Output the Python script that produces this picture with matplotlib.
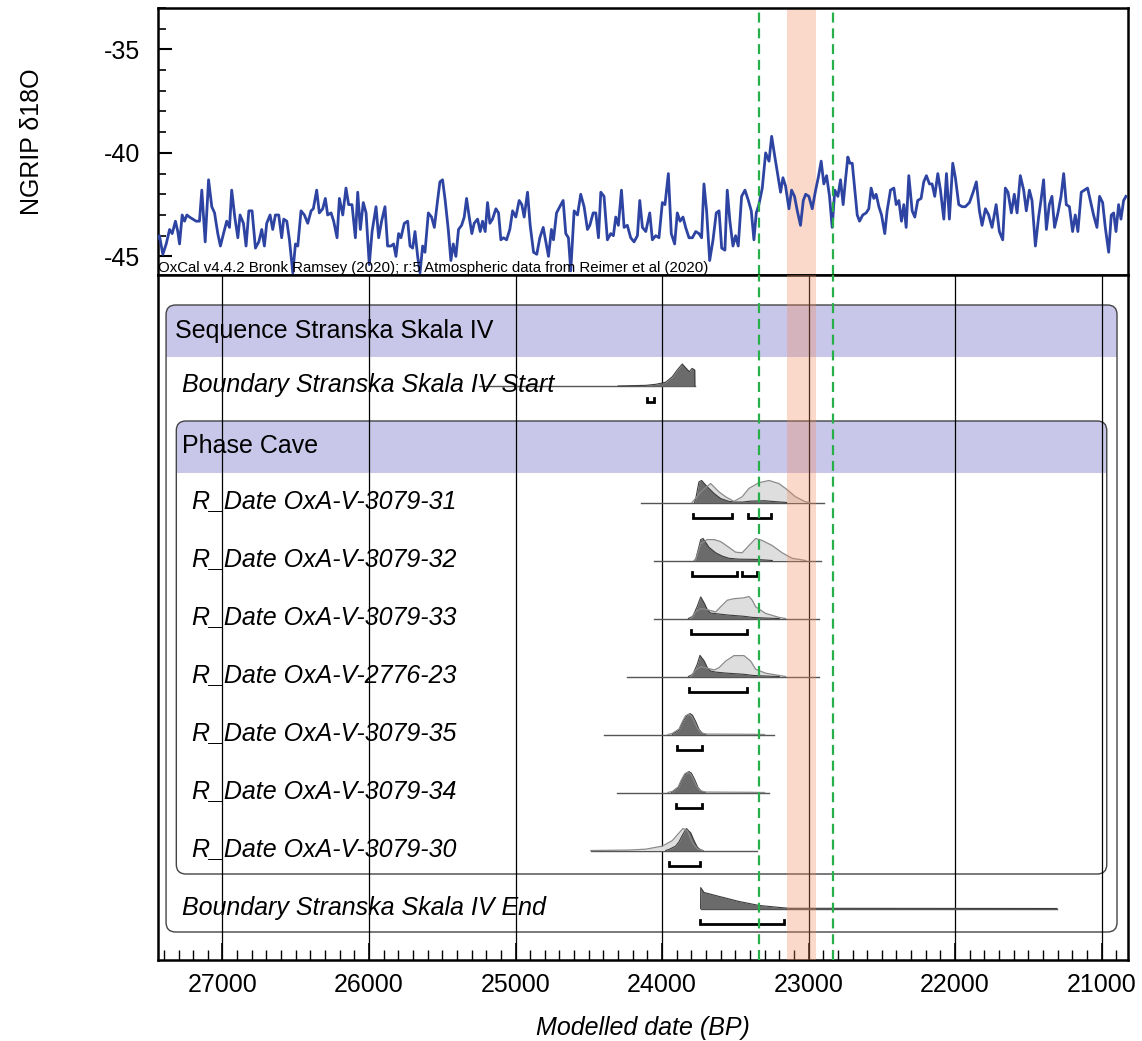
import matplotlib.pyplot as plt
from matplotlib.patches import FancyBboxPatch, Rectangle
from matplotlib.ticker import MultipleLocator

plt.rcParams['font.family'] = ['Liberation Sans', 'DejaVu Sans']
plt.rcParams['axes.unicode_minus'] = False

# ---- NGRIP d18O record ----
ngrip_age = [27448, 27430, 27407, 27384, 27361, 27343, 27321, 27305, 27293, 27275,
             27259, 27243, 27225, 27202, 27180, 27157, 27141, 27118, 27095, 27073,
             27054, 27032, 27014, 26993, 26971, 26952, 26937, 26916, 26895, 26880,
             26857, 26839, 26820, 26798, 26775, 26752, 26732, 26714, 26698, 26675,
             26657, 26639, 26616, 26596, 26582, 26561, 26543, 26520, 26502, 26486,
             26464, 26441, 26418, 26395, 26380, 26357, 26339, 26316, 26298, 26282,
             26259, 26241, 26218, 26202, 26179, 26157, 26139, 26116, 26093, 26077,
             26059, 26039, 26020, 25998, 25979, 25952, 25934, 25914, 25891, 25873,
             25850, 25832, 25816, 25798, 25782, 25759, 25736, 25720, 25702, 25686,
             25668, 25652, 25634, 25618, 25595, 25573, 25554, 25532, 25516, 25498,
             25480, 25459, 25441, 25425, 25407, 25389, 25368, 25350, 25334, 25316,
             25298, 25282, 25259, 25241, 25225, 25207, 25191, 25175, 25157, 25134,
             25116, 25100, 25082, 25061, 25039, 25020, 24998, 24975, 24957, 24941,
             24918, 24900, 24877, 24855, 24834, 24811, 24793, 24775, 24755, 24741,
             24720, 24698, 24675, 24657, 24639, 24623, 24600, 24577, 24555, 24532,
             24509, 24493, 24470, 24452, 24434, 24418, 24396, 24373, 24350, 24332,
             24316, 24298, 24277, 24259, 24237, 24214, 24191, 24168, 24152, 24134,
             24111, 24084, 24066, 24043, 24021, 23998, 23980, 23957, 23937, 23914,
             23896, 23877, 23857, 23839, 23816, 23793, 23770, 23748, 23730, 23714,
             23696, 23675, 23652, 23630, 23611, 23593, 23571, 23555, 23537, 23516,
             23498, 23480, 23457, 23434, 23411, 23391, 23373, 23357, 23339, 23316,
             23293, 23270, 23252, 23230, 23207, 23191, 23175, 23157, 23134, 23116,
             23096, 23077, 23055, 23036, 23020, 22998, 22975, 22952, 22934, 22914,
             22896, 22877, 22857, 22839, 22821, 22800, 22782, 22764, 22748, 22732,
             22718, 22702, 22684, 22668, 22652, 22630, 22607, 22589, 22573, 22555,
             22539, 22520, 22502, 22480, 22464, 22441, 22418, 22402, 22384, 22366,
             22350, 22334, 22316, 22293, 22275, 22255, 22232, 22214, 22196, 22175,
             22157, 22139, 22118, 22100, 22077, 22059, 22039, 22016, 21998, 21975,
             21952, 21930, 21902, 21877, 21855, 21834, 21816, 21793, 21771, 21748,
             21720, 21698, 21675, 21657, 21639, 21616, 21596, 21577, 21555, 21532,
             21514, 21493, 21475, 21452, 21430, 21414, 21396, 21377, 21357, 21339,
             21321, 21298, 21277, 21259, 21241, 21220, 21198, 21180, 21162, 21139,
             21118, 21096, 21077, 21055, 21032, 21014, 20993, 20975, 20952, 20934,
             20918, 20902, 20884, 20868, 20850, 20834]
ngrip_d18o = [-44.2, -44.0, -44.9, -44.4, -43.7, -43.9, -43.3, -43.8, -44.4, -43.0,
              -43.3, -43.0, -43.1, -43.2, -43.3, -43.3, -41.8, -44.3, -41.3, -42.6,
              -42.9, -43.9, -44.5, -43.9, -43.3, -43.6, -41.8, -43.1, -44.1, -43.0,
              -43.4, -44.5, -42.8, -42.8, -44.6, -44.3, -43.7, -44.5, -43.4, -43.0,
              -43.7, -43.0, -43.0, -44.1, -43.2, -43.3, -44.2, -45.8, -44.4, -44.5,
              -42.8, -43.0, -43.4, -42.8, -42.7, -41.8, -42.9, -42.7, -42.2, -43.0,
              -42.9, -43.3, -44.1, -42.2, -43.0, -41.7, -42.5, -42.5, -44.1, -41.9,
              -43.7, -42.4, -42.9, -45.4, -43.8, -42.6, -44.1, -43.3, -42.6, -44.5,
              -44.5, -44.4, -45.0, -43.9, -44.1, -43.4, -43.3, -44.5, -44.6, -43.8,
              -45.0, -45.8, -44.5, -44.8, -42.9, -43.1, -43.6, -42.3, -41.4, -41.3,
              -42.3, -43.7, -45.2, -44.4, -45.0, -43.7, -43.5, -43.1, -42.2, -43.1,
              -43.9, -43.4, -43.2, -43.8, -43.3, -43.8, -42.4, -43.4, -43.2, -42.7,
              -42.9, -44.2, -44.1, -44.2, -43.7, -42.8, -43.1, -42.3, -42.5, -43.1,
              -41.9, -43.5, -44.8, -44.9, -44.1, -43.6, -44.3, -45.0, -43.7, -44.2,
              -42.9, -42.6, -42.3, -43.9, -44.1, -45.7, -42.8, -43.0, -42.0, -42.6,
              -43.7, -43.5, -42.9, -42.9, -44.1, -41.9, -42.1, -44.2, -43.9, -44.0,
              -43.1, -43.5, -41.8, -43.6, -43.5, -44.1, -44.3, -44.0, -42.3, -43.6,
              -43.8, -42.9, -44.2, -44.0, -44.1, -42.4, -42.5, -41.0, -43.9, -44.4,
              -42.9, -43.3, -43.1, -43.6, -44.1, -44.1, -43.8, -43.9, -44.1, -41.5,
              -42.8, -45.2, -44.2, -42.9, -42.8, -44.6, -44.7, -41.8, -43.3, -44.5,
              -44.0, -44.5, -42.1, -41.8, -42.3, -42.8, -44.2, -42.9, -42.5, -41.7,
              -40.0, -40.4, -39.2, -40.2, -41.2, -41.9, -41.2, -41.6, -42.7, -41.8,
              -42.1, -42.8, -43.5, -42.3, -42.0, -42.1, -42.7, -41.8, -41.2, -40.4,
              -41.5, -41.1, -42.1, -43.6, -41.8, -42.1, -41.3, -42.5, -41.3, -40.2,
              -40.5, -40.5, -41.8, -43.0, -43.3, -43.0, -42.9, -42.7, -41.7, -42.2,
              -42.0, -42.6, -43.0, -43.9, -42.8, -41.8, -41.7, -42.5, -42.3, -43.3,
              -42.5, -43.6, -41.1, -42.8, -43.1, -42.3, -42.2, -41.4, -41.1, -41.5,
              -41.5, -42.1, -41.0, -41.8, -43.2, -41.0, -43.2, -40.5, -41.2, -42.5,
              -42.6, -42.6, -42.4, -41.9, -41.4, -42.8, -43.5, -42.7, -43.0, -43.6,
              -42.5, -43.8, -44.2, -41.7, -41.9, -42.9, -42.0, -42.9, -41.1, -41.8,
              -42.8, -41.8, -42.3, -44.5, -43.1, -42.3, -41.3, -43.7, -42.5, -42.1,
              -43.6, -42.9, -42.1, -41.0, -42.5, -42.6, -43.8, -43.0, -43.8, -41.9,
              -41.8, -41.7, -42.3, -43.0, -43.6, -42.1, -42.4, -43.6, -44.8, -43.0,
              -42.9, -43.8, -42.5, -43.2, -42.3, -42.1]

green_lines = [23340, 22835]
orange_band = (23150, 22950)

# ---- OxCal model rows: likelihood (light) and posterior (dark), relative heights ----
start_post_age = [24300, 24110, 24040, 23975, 23930, 23896, 23862, 23835, 23814, 23795, 23777, 23776]
start_post_h = [0, 0.03, 0.08, 0.17, 0.42, 0.73, 1.0, 0.8, 0.65, 0.8, 0.73, 0]

r31_like_age = [23795, 23725, 23668, 23611, 23566, 23509, 23453, 23407, 23339, 23270, 23202, 23157, 23089, 23020, 22990]
r31_like_h = [0, 0.55, 0.86, 0.48, 0.26, 0.05, 0.26, 0.64, 0.9, 1.0, 0.86, 0.64, 0.26, 0.03, 0]
r31_post_age = [23778, 23770, 23748, 23730, 23691, 23645, 23600, 23543, 23498, 23450, 23400, 23300, 23230, 23150]
r31_post_h = [0, 0.18, 0.94, 1.0, 0.71, 0.41, 0.18, 0.05, 0.02, 0.02, 0.06, 0.08, 0.04, 0]

r32_like_age = [23780, 23770, 23736, 23691, 23645, 23600, 23555, 23498, 23453, 23407, 23361, 23316, 23248, 23180, 23112, 23020]
r32_like_h = [0, 0.05, 0.76, 0.95, 0.95, 0.86, 0.65, 0.38, 0.35, 0.68, 1.0, 0.91, 0.68, 0.35, 0.1, 0]
r32_post_age = [23780, 23770, 23736, 23720, 23680, 23634, 23589, 23543, 23475, 23361, 23316, 23248]
r32_post_h = [0, 0.05, 0.95, 1.0, 0.6, 0.35, 0.2, 0.1, 0.06, 0.05, 0.03, 0]

r33_like_age = [23805, 23770, 23736, 23691, 23634, 23590, 23555, 23509, 23441, 23407, 23384, 23361, 23293, 23202, 23157]
r33_like_h = [0, 0.3, 0.45, 0.4, 0.3, 0.6, 0.83, 0.9, 0.94, 1.0, 0.83, 0.53, 0.23, 0.05, 0]
r33_post_age = [23820, 23790, 23760, 23736, 23712, 23691, 23670, 23634, 23555, 23441, 23384, 23293, 23200]
r33_post_h = [0, 0.1, 0.55, 0.98, 0.7, 0.4, 0.25, 0.22, 0.16, 0.1, 0.05, 0.02, 0]

r23_like_age = [23805, 23770, 23736, 23691, 23645, 23611, 23566, 23509, 23441, 23395, 23361, 23293, 23157]
r23_like_h = [0, 0.3, 0.45, 0.38, 0.3, 0.4, 0.7, 0.95, 0.95, 0.7, 0.33, 0.15, 0]
r23_post_age = [23820, 23790, 23760, 23741, 23712, 23691, 23670, 23634, 23555, 23441, 23384, 23293, 23200]
r23_post_h = [0, 0.1, 0.55, 0.96, 0.7, 0.4, 0.25, 0.2, 0.15, 0.1, 0.05, 0.02, 0]

r35_like_age = [23960, 23930, 23884, 23864, 23840, 23820, 23800, 23780, 23760, 23735, 23700, 23400, 23300]
r35_like_h = [0, 0.05, 0.25, 0.55, 0.85, 0.92, 0.85, 0.6, 0.3, 0.08, 0.02, 0.01, 0]
r35_post_age = [23930, 23884, 23850, 23827, 23809, 23793, 23770, 23748, 23725, 23700]
r35_post_h = [0, 0.2, 0.65, 0.88, 0.95, 0.88, 0.58, 0.23, 0.05, 0]

r34_like_age = [23960, 23930, 23890, 23870, 23845, 23825, 23805, 23785, 23765, 23740, 23700, 23400, 23300]
r34_like_h = [0, 0.05, 0.25, 0.55, 0.85, 0.92, 0.85, 0.6, 0.3, 0.08, 0.02, 0.01, 0]
r34_post_age = [23935, 23890, 23857, 23834, 23816, 23800, 23777, 23755, 23732, 23705]
r34_post_h = [0, 0.2, 0.65, 0.88, 0.95, 0.88, 0.58, 0.23, 0.05, 0]

r30_like_age = [24486, 24225, 24111, 23998, 23930, 23884, 23857, 23827, 23793, 23759, 23725]
r30_like_h = [0, 0.02, 0.06, 0.2, 0.45, 0.8, 1.0, 0.9, 0.35, 0.08, 0]
r30_post_age = [23975, 23952, 23907, 23884, 23861, 23834, 23804, 23782, 23759, 23736, 23720]
r30_post_h = [0, 0.05, 0.2, 0.4, 0.7, 1.0, 0.8, 0.45, 0.15, 0.02, 0]

end_post_age = [23737, 23736, 23714, 23611, 23475, 23339, 23202, 23134, 21305]
end_post_h = [0, 0.95, 0.73, 0.55, 0.32, 0.14, 0.05, 0.01, 0]

date_names = ['R_Date OxA-V-3079-31', 'R_Date OxA-V-3079-32', 'R_Date OxA-V-3079-33',
              'R_Date OxA-V-2776-23', 'R_Date OxA-V-3079-35', 'R_Date OxA-V-3079-34',
              'R_Date OxA-V-3079-30']
date_extent = [(24143, 22895), (24055, 22918), (24055, 22930), (24237, 22930),
               (24395, 23236), (24307, 23270), (24484, 23352)]
date_ranges = [[(23789, 23523), (23414, 23257)],
               [(23795, 23489), (23455, 23352)],
               [(23802, 23418)],
               [(23816, 23423)],
               [(23898, 23727)],
               [(23905, 23727)],
               [(23952, 23741)]]
start_extent = (25250, 23776)
start_ranges = [(24100, 24055)]
end_extent = (23737, 21305)
end_ranges = [(23741, 23168)]

# ---- figure ----
W, H = 1142, 1041
fig = plt.figure(figsize=(W / 100, H / 100), dpi=100)
ax_top = fig.add_axes([158 / W, 1 - 275 / H, 970 / W, 267 / H])
ax = fig.add_axes([158 / W, 1 - 960 / H, 970 / W, 685 / H])

XLIM = (27440, 20820)
FS = 18
BLUE = '#2e44a2'
GREEN = '#27b04a'
ORANGE = '#f08a5d'
PURPLE = '#c9c7e9'

# upper panel
ax_top.plot(ngrip_age, ngrip_d18o, color=BLUE, lw=2.0, zorder=3)
ax_top.axvspan(*orange_band, color=ORANGE, alpha=0.32, lw=0, zorder=1)
for g in green_lines:
    ax_top.axvline(g, color=GREEN, lw=1.6, dashes=(4.5, 2.6), zorder=4)
ax_top.set_xlim(*XLIM)
ax_top.set_ylim(-45.9, -33.0)
ax_top.yaxis.set_major_locator(MultipleLocator(5))
ax_top.yaxis.set_minor_locator(MultipleLocator(1))
ax_top.tick_params(axis='y', which='major', direction='in', length=10, width=1.5,
                   labelsize=FS, pad=13)
ax_top.tick_params(axis='y', which='minor', direction='in', length=6, width=1.2)
ax_top.tick_params(axis='x', which='both', bottom=False, labelbottom=False)
ax_top.set_ylabel('NGRIP δ18O', fontsize=FS)
ax_top.yaxis.set_label_coords(-0.118, 0.5)
for s in ax_top.spines.values():
    s.set_linewidth(1.8)
ax_top.text(0.0, 0.0, 'OxCal v4.4.2 Bronk Ramsey (2020); r:5 Atmospheric data from Reimer et al (2020)',
            transform=ax_top.transAxes, ha='left', va='bottom', fontsize=10.8, zorder=6)

# lower panel (x in years BP, y in layout units top->bottom)
ax.set_xlim(*XLIM)
ax.set_ylim(960, 275)
ax.xaxis.set_major_locator(MultipleLocator(1000))
ax.xaxis.set_minor_locator(MultipleLocator(100))
ax.tick_params(axis='x', which='major', direction='in', length=12, width=1.2,
               labelsize=FS, pad=9)
ax.tick_params(axis='x', which='minor', direction='in', length=7, width=1.0)
ax.tick_params(axis='y', which='both', left=False, labelleft=False)
ax.set_axisbelow(False)
ax.grid(axis='x', which='major', color='black', lw=0.9)
for s in ax.spines.values():
    s.set_linewidth(1.8)
ax.set_xlabel('Modelled date (BP)', fontsize=FS, style='italic', labelpad=14)

asp = 146.67 / 1000.0   # px per year, so rounded corners stay round


def rbox(x0, x1, y0, y1):
    b = FancyBboxPatch((min(x0, x1), y0), abs(x1 - x0), y1 - y0,
                       boxstyle='round,pad=0,rounding_size=65', mutation_aspect=asp,
                       fc='none', ec='#444444', lw=1.0, zorder=2)
    ax.add_patch(b)
    return b


def header(box, x0, x1, y0, y1):
    r = Rectangle((min(x0, x1), y0), abs(x1 - x0), y1 - y0, fc=PURPLE, ec='none', zorder=1)
    ax.add_patch(r)
    r.set_clip_path(box)


seq_box = rbox(27385, 20895, 305, 932)
header(seq_box, 27385, 20895, 305, 357)
phase_box = rbox(27315, 20965, 421, 874)
header(phase_box, 27315, 20965, 421, 473)

ax.text(27327, 331, 'Sequence Stranska Skala IV', fontsize=FS, va='center', ha='left', zorder=9)
ax.text(27273, 446, 'Phase Cave', fontsize=FS, va='center', ha='left', zorder=9)

HT = 22.0
BR = 15.5


def row(base, extent, ranges, post_age, post_h, like_age=None, like_h=None):
    ax.plot(extent, [base, base], color='#555555', lw=1.0, zorder=3)
    if like_age is not None:
        ly = [base - h * HT for h in like_h]
        ax.fill_between(like_age, base, ly, color='#dedede', lw=0, zorder=3)
    py = [base - h * HT for h in post_h]
    ax.fill_between(post_age, base, py, color='#6b6b6b', lw=0, zorder=4)
    ax.plot(post_age, py, color='#3d3d3d', lw=0.8, zorder=4)
    if like_age is not None:
        ax.plot(like_age, ly, color='#8a8a8a', lw=0.9, zorder=5)
    for a, b in ranges:
        yb = base + BR
        ax.plot([a, a, b, b], [yb - 4, yb, yb, yb - 4], color='black', lw=2.0,
                solid_joinstyle='miter', zorder=5)


row(386, start_extent, start_ranges, start_post_age, start_post_h)
ax.text(27273, 385, 'Boundary Stranska Skala IV Start', fontsize=FS, style='italic',
        va='center', ha='left', zorder=9)

date_like = [(r31_like_age, r31_like_h), (r32_like_age, r32_like_h), (r33_like_age, r33_like_h),
             (r23_like_age, r23_like_h), (r35_like_age, r35_like_h), (r34_like_age, r34_like_h),
             (r30_like_age, r30_like_h)]
date_post = [(r31_post_age, r31_post_h), (r32_post_age, r32_post_h), (r33_post_age, r33_post_h),
             (r23_post_age, r23_post_h), (r35_post_age, r35_post_h), (r34_post_age, r34_post_h),
             (r30_post_age, r30_post_h)]

for i, name in enumerate(date_names):
    base = 502.5 + 58 * i
    row(base, date_extent[i], date_ranges[i], date_post[i][0], date_post[i][1],
        date_like[i][0], date_like[i][1])
    ax.text(27211, base - 1, name, fontsize=FS, style='italic', va='center', ha='left', zorder=9)

row(908.5, end_extent, end_ranges, end_post_age, end_post_h)
ax.text(27273, 908, 'Boundary Stranska Skala IV End', fontsize=FS, style='italic',
        va='center', ha='left', zorder=9)

ax.axvspan(*orange_band, color=ORANGE, alpha=0.32, lw=0, zorder=7)
for g in green_lines:
    ax.axvline(g, color=GREEN, lw=1.6, dashes=(4.5, 2.6), zorder=8)

fig.savefig('out.png', dpi=100)
